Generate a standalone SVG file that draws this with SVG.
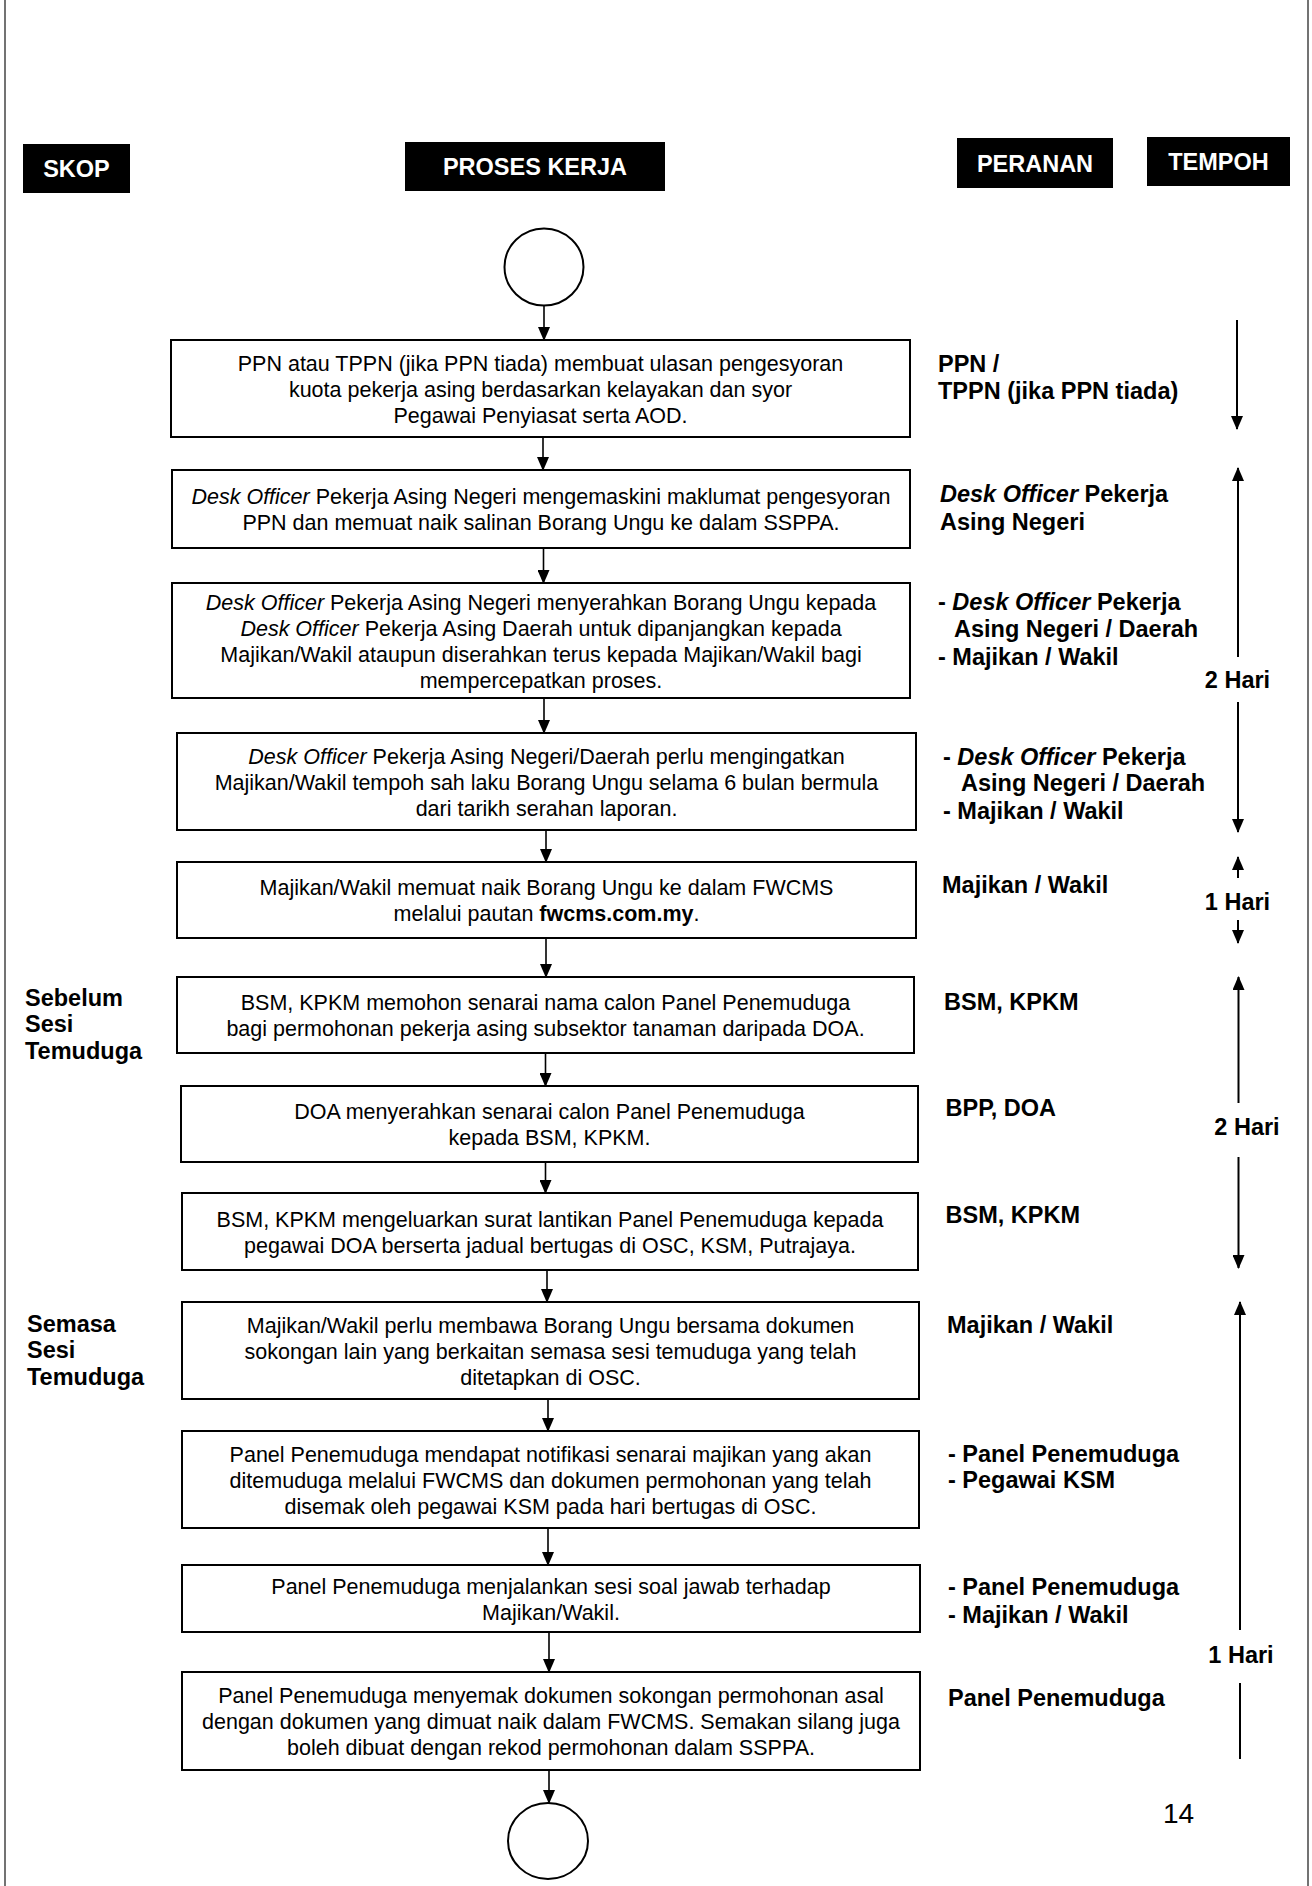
<svg xmlns="http://www.w3.org/2000/svg" width="1312" height="1886" viewBox="0 0 1312 1886">
<style>
.bx{fill:#fff;stroke:#000;stroke-width:2}
.hd{fill:#000}
.ht{font-family:"Liberation Sans",Arial,sans-serif;font-weight:bold;font-size:23.5px;fill:#fff;text-anchor:middle}
.t{font-family:"Liberation Sans",Arial,sans-serif;font-size:21.5px;fill:#000;text-anchor:middle}
.r{font-family:"Liberation Sans",Arial,sans-serif;font-weight:bold;font-size:23.5px;fill:#000}
.c{text-anchor:middle}
.i{font-style:italic}
.b{font-weight:bold}
.ln{stroke:#000;stroke-width:1.6;fill:none}
.tl{stroke:#000;stroke-width:2;fill:none}
.fr{stroke:#444;stroke-width:1.5}
</style>
<defs>
<marker id="ah" markerUnits="userSpaceOnUse" markerWidth="14" markerHeight="12" refX="13" refY="6" orient="auto">
<path d="M0,0 L14,6 L0,12 z" fill="#000"/>
</marker>
</defs>
<rect width="1312" height="1886" fill="#fff"/>
<g id="frame">
<line class="fr" x1="5" y1="0" x2="5" y2="1886"/>
<line class="fr" x1="1308" y1="0" x2="1308" y2="1886"/>
</g>
<g id="headers">
<rect class="hd" x="23" y="144" width="107" height="49"/>
<text class="ht" x="76.5" y="177">SKOP</text>
<rect class="hd" x="405" y="142" width="260" height="49"/>
<text class="ht" x="535" y="174.5">PROSES KERJA</text>
<rect class="hd" x="957" y="138" width="156" height="50"/>
<text class="ht" x="1035" y="171.5">PERANAN</text>
<rect class="hd" x="1147" y="137" width="143" height="49"/>
<text class="ht" x="1218.5" y="170">TEMPOH</text>
</g>
<g id="connectors">
<line class="ln" x1="544" y1="306" x2="544" y2="340" marker-end="url(#ah)"/>
<line class="ln" x1="543" y1="437" x2="543" y2="470" marker-end="url(#ah)"/>
<line class="ln" x1="543.5" y1="548" x2="543.5" y2="583" marker-end="url(#ah)"/>
<line class="ln" x1="544" y1="698" x2="544" y2="733" marker-end="url(#ah)"/>
<line class="ln" x1="546" y1="830" x2="546" y2="862" marker-end="url(#ah)"/>
<line class="ln" x1="546" y1="938" x2="546" y2="977" marker-end="url(#ah)"/>
<line class="ln" x1="545.5" y1="1053" x2="545.5" y2="1086" marker-end="url(#ah)"/>
<line class="ln" x1="545.5" y1="1162" x2="545.5" y2="1193" marker-end="url(#ah)"/>
<line class="ln" x1="547" y1="1270" x2="547" y2="1302" marker-end="url(#ah)"/>
<line class="ln" x1="548" y1="1399" x2="548" y2="1431" marker-end="url(#ah)"/>
<line class="ln" x1="548" y1="1528" x2="548" y2="1565" marker-end="url(#ah)"/>
<line class="ln" x1="549" y1="1632" x2="549" y2="1672" marker-end="url(#ah)"/>
<line class="ln" x1="549" y1="1770" x2="549" y2="1803" marker-end="url(#ah)"/>
</g>
<g id="start"><ellipse class="bx" cx="544" cy="267" rx="39.5" ry="38.5" stroke-width="1.6"/></g>
<g id="n1">
<rect class="bx" x="171" y="340" width="739" height="97"/>
<text class="t" x="540.5" y="370.5">PPN atau TPPN (jika PPN tiada) membuat ulasan pengesyoran</text>
<text class="t" x="540.5" y="396.5">kuota pekerja asing berdasarkan kelayakan dan syor</text>
<text class="t" x="540.5" y="422.5">Pegawai Penyiasat serta AOD.</text>
</g>
<g id="n2">
<rect class="bx" x="172" y="470" width="738" height="78"/>
<text class="t" x="541" y="504"><tspan class="i">Desk Officer</tspan> Pekerja Asing Negeri mengemaskini maklumat pengesyoran</text>
<text class="t" x="541" y="530">PPN dan memuat naik salinan Borang Ungu ke dalam SSPPA.</text>
</g>
<g id="n3">
<rect class="bx" x="172" y="583" width="738" height="115"/>
<text class="t" x="541" y="609.5"><tspan class="i">Desk Officer</tspan> Pekerja Asing Negeri menyerahkan Borang Ungu kepada</text>
<text class="t" x="541" y="635.5"><tspan class="i">Desk Officer</tspan> Pekerja Asing Daerah untuk dipanjangkan kepada</text>
<text class="t" x="541" y="661.5">Majikan/Wakil ataupun diserahkan terus kepada Majikan/Wakil bagi</text>
<text class="t" x="541" y="687.5">mempercepatkan proses.</text>
</g>
<g id="n4">
<rect class="bx" x="177" y="733" width="739" height="97"/>
<text class="t" x="546.5" y="763.5"><tspan class="i">Desk Officer</tspan> Pekerja Asing Negeri/Daerah perlu mengingatkan</text>
<text class="t" x="546.5" y="789.5">Majikan/Wakil tempoh sah laku Borang Ungu selama 6 bulan bermula</text>
<text class="t" x="546.5" y="815.5">dari tarikh serahan laporan.</text>
</g>
<g id="n5">
<rect class="bx" x="177" y="862" width="739" height="76"/>
<text class="t" x="546.5" y="895">Majikan/Wakil memuat naik Borang Ungu ke dalam FWCMS</text>
<text class="t" x="546.5" y="921">melalui pautan <tspan class="b">fwcms.com.my</tspan>.</text>
</g>
<g id="n6">
<rect class="bx" x="177" y="977" width="737" height="76"/>
<text class="t" x="545.5" y="1010">BSM, KPKM memohon senarai nama calon Panel Penemuduga</text>
<text class="t" x="545.5" y="1036">bagi permohonan pekerja asing subsektor tanaman daripada DOA.</text>
</g>
<g id="n7">
<rect class="bx" x="181" y="1086" width="737" height="76"/>
<text class="t" x="549.5" y="1119">DOA menyerahkan senarai calon Panel Penemuduga</text>
<text class="t" x="549.5" y="1145">kepada BSM, KPKM.</text>
</g>
<g id="n8">
<rect class="bx" x="182" y="1193" width="736" height="77"/>
<text class="t" x="550" y="1226.5">BSM, KPKM mengeluarkan surat lantikan Panel Penemuduga kepada</text>
<text class="t" x="550" y="1252.5">pegawai DOA berserta jadual bertugas di OSC, KSM, Putrajaya.</text>
</g>
<g id="n9">
<rect class="bx" x="182" y="1302" width="737" height="97"/>
<text class="t" x="550.5" y="1332.5">Majikan/Wakil perlu membawa Borang Ungu bersama dokumen</text>
<text class="t" x="550.5" y="1358.5">sokongan lain yang berkaitan semasa sesi temuduga yang telah</text>
<text class="t" x="550.5" y="1384.5">ditetapkan di OSC.</text>
</g>
<g id="n10">
<rect class="bx" x="182" y="1431" width="737" height="97"/>
<text class="t" x="550.5" y="1461.5">Panel Penemuduga mendapat notifikasi senarai majikan yang akan</text>
<text class="t" x="550.5" y="1487.5">ditemuduga melalui FWCMS dan dokumen permohonan yang telah</text>
<text class="t" x="550.5" y="1513.5">disemak oleh pegawai KSM pada hari bertugas di OSC.</text>
</g>
<g id="n11">
<rect class="bx" x="182" y="1565" width="738" height="67"/>
<text class="t" x="551" y="1593.5">Panel Penemuduga menjalankan sesi soal jawab terhadap</text>
<text class="t" x="551" y="1619.5">Majikan/Wakil.</text>
</g>
<g id="n12">
<rect class="bx" x="182" y="1672" width="738" height="98"/>
<text class="t" x="551" y="1703">Panel Penemuduga menyemak dokumen sokongan permohonan asal</text>
<text class="t" x="551" y="1729">dengan dokumen yang dimuat naik dalam FWCMS. Semakan silang juga</text>
<text class="t" x="551" y="1755">boleh dibuat dengan rekod permohonan dalam SSPPA.</text>
</g>
<g id="end"><ellipse class="bx" cx="548" cy="1841" rx="40" ry="38" stroke-width="1.6"/></g>
<g id="skop">
<text class="r" x="25" y="1005.5">Sebelum</text>
<text class="r" x="25" y="1032">Sesi</text>
<text class="r" x="25" y="1058.5">Temuduga</text>
<text class="r" x="27" y="1331.5">Semasa</text>
<text class="r" x="27" y="1358">Sesi</text>
<text class="r" x="27" y="1384.5">Temuduga</text>
</g>
<g id="peranan">
<text class="r" x="938" y="372">PPN /</text>
<text class="r" x="938" y="399">TPPN (jika PPN tiada)</text>
<text class="r" x="940" y="502"><tspan class="i">Desk Officer</tspan> Pekerja</text>
<text class="r" x="940" y="530">Asing Negeri</text>
<text class="r" x="938" y="610">- <tspan class="i">Desk Officer</tspan> Pekerja</text>
<text class="r" x="954" y="637">Asing Negeri / Daerah</text>
<text class="r" x="938" y="665">- Majikan / Wakil</text>
<text class="r" x="943" y="765">- <tspan class="i">Desk Officer</tspan> Pekerja</text>
<text class="r" x="961" y="791">Asing Negeri / Daerah</text>
<text class="r" x="943" y="819">- Majikan / Wakil</text>
<text class="r" x="942" y="893">Majikan / Wakil</text>
<text class="r" x="944" y="1010">BSM, KPKM</text>
<text class="r" x="945.5" y="1116">BPP, DOA</text>
<text class="r" x="945.5" y="1223">BSM, KPKM</text>
<text class="r" x="947" y="1333">Majikan / Wakil</text>
<text class="r" x="948" y="1461.5">- Panel Penemuduga</text>
<text class="r" x="948" y="1488">- Pegawai KSM</text>
<text class="r" x="948" y="1595">- Panel Penemuduga</text>
<text class="r" x="948" y="1623">- Majikan / Wakil</text>
<text class="r" x="948" y="1706">Panel Penemuduga</text>
</g>
<g id="tempoh">
<line class="tl" x1="1237" y1="320" x2="1237" y2="429" marker-end="url(#ah)"/>
<line class="tl" x1="1238" y1="657" x2="1238" y2="468" marker-end="url(#ah)"/>
<text class="r c" x="1237.5" y="688">2 Hari</text>
<line class="tl" x1="1238" y1="702" x2="1238" y2="832" marker-end="url(#ah)"/>
<line class="tl" x1="1238" y1="878" x2="1238" y2="857" marker-end="url(#ah)"/>
<text class="r c" x="1237.5" y="910">1 Hari</text>
<line class="tl" x1="1238" y1="920" x2="1238" y2="943" marker-end="url(#ah)"/>
<line class="tl" x1="1238.5" y1="1103" x2="1238.5" y2="977" marker-end="url(#ah)"/>
<text class="r c" x="1247" y="1135">2 Hari</text>
<line class="tl" x1="1238.5" y1="1157" x2="1238.5" y2="1268" marker-end="url(#ah)"/>
<line class="tl" x1="1240" y1="1630" x2="1240" y2="1302" marker-end="url(#ah)"/>
<text class="r c" x="1241" y="1663">1 Hari</text>
<line class="tl" x1="1240" y1="1683" x2="1240" y2="1759"/>
</g>
<text x="1163" y="1823" font-family="Liberation Sans, Arial, sans-serif" font-size="28">14</text>
</svg>
